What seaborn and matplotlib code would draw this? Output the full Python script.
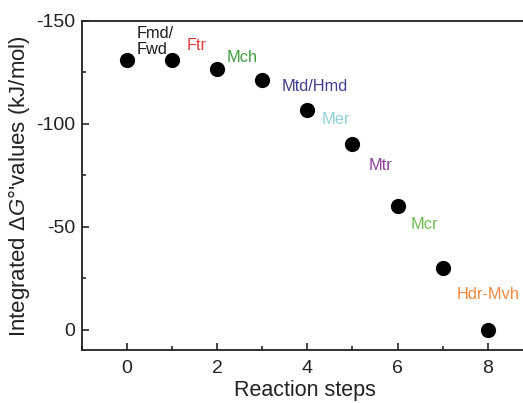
import numpy as np
import pandas as pd
import seaborn as sns
import matplotlib.pyplot as plt
from matplotlib.ticker import MultipleLocator

# Data
steps = [0, 1, 2, 3, 4, 5, 6, 7, 8]
dG = [-131, -131, -126.5, -121.5, -106.5, -90, -60, -30, 0]

labels = ["Fmd/\nFwd", "Ftr", "Mch", "Mtd/Hmd", "Mer", "Mtr", "Mcr", "Hdr-Mvh"]
label_x = [0.2, 1.31, 2.2, 3.42, 4.31, 5.36, 6.29, 7.31]
label_y = [-140, -138, -132, -118, -102, -80, -51, -17]
label_colors = ["#1a1a1a", "#e0413a", "#3f9e3f", "#3f3f8f", "#8fd3dc",
                "#8e3f9e", "#6cbf4f", "#f0893c"]

sns.set_style("ticks")
plt.rcParams['font.family'] = ['Liberation Sans', 'DejaVu Sans']
plt.rcParams['mathtext.fontset'] = 'custom'
plt.rcParams['mathtext.it'] = 'Liberation Sans:italic'
plt.rcParams['mathtext.rm'] = 'Liberation Sans'
plt.rcParams['axes.unicode_minus'] = False

df = pd.DataFrame({'step': steps, 'dG': dG})

fig = plt.figure(figsize=(5.23, 4.03), dpi=100)
ax = fig.add_axes([0.157, 0.131, 0.853, 0.817])

sns.scatterplot(data=df, x='step', y='dG', color='black', s=120,
                edgecolor='black', linewidth=0, ax=ax, zorder=3)

for t, x, y, c in zip(labels, label_x, label_y, label_colors):
    ax.text(x, y, t, color=c, fontsize=11.8, ha='left', va='center',
            linespacing=1.05)

ax.set_xlim(-1, 8.9)
ax.set_ylim(10, -150)
ax.xaxis.set_major_locator(MultipleLocator(2))
ax.xaxis.set_minor_locator(MultipleLocator(1))
ax.yaxis.set_major_locator(MultipleLocator(50))
ax.yaxis.set_minor_locator(MultipleLocator(25))
ax.tick_params(which='both', direction='in', labelsize=14, width=1.2,
               labelcolor='#222222')
ax.tick_params(which='major', length=5)
ax.tick_params(which='minor', length=3)
ax.tick_params(axis='x', pad=7)
ax.tick_params(axis='y', pad=5)

for s in ['left', 'bottom', 'top']:
    ax.spines[s].set_linewidth(1.3)
    ax.spines[s].set_color('#222222')
ax.spines['right'].set_visible(False)

ax.set_xlabel('Reaction steps', fontsize=15.5, labelpad=2, color='#222222')
ax.set_ylabel("Integrated Δ$G$°'values (kJ/mol)", fontsize=16, labelpad=3,
              color='#222222')

fig.savefig('out.png', dpi=100)
